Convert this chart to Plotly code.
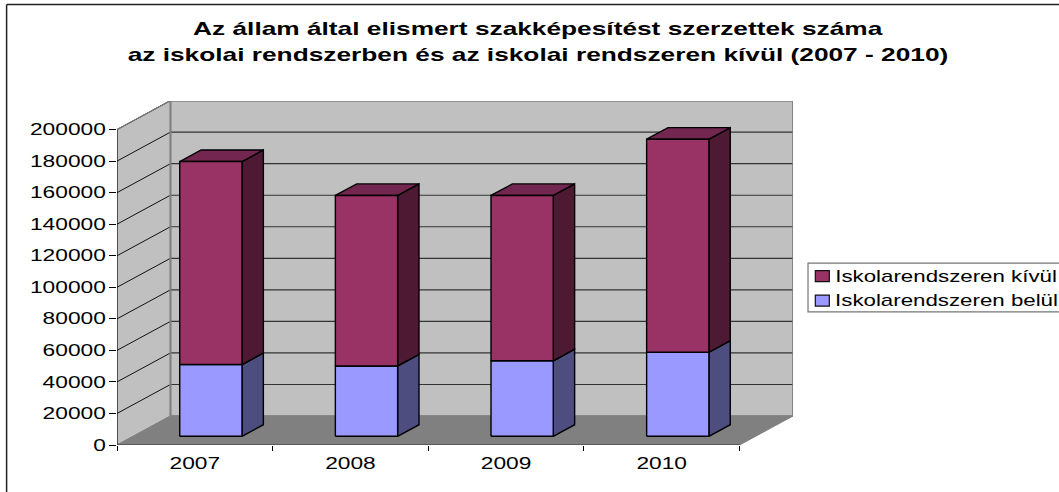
import plotly.graph_objects as go

years = ["2007", "2008", "2009", "2010"]
belul = [45500, 44600, 47900, 53300]
kivul = [128700, 108100, 104800, 135100]
tick_values = [0, 20000, 40000, 60000, 80000, 100000, 120000, 140000, 160000, 180000, 200000]
title_lines = ["Az állam által elismert szakképesítést szerzettek száma",
               "az iskolai rendszerben és az iskolai rendszeren kívül (2007 - 2010)"]
legend_names = ["Iskolarendszeren kívül", "Iskolarendszeren belül"]

W, H = 1059, 492
L, R, T, B = 117.3, 792.7, 100.7, 445.0
FRONT_R = 739.3
N = len(years)
band_px = (FRONT_R - L) / N
DEPTH_X = (R - FRONT_R) / band_px
Y_TOP_PX = 129.3
px_per_unit = (B - Y_TOP_PX) / 200000
DEPTH_Y = (B - 416.0) / px_per_unit
ymax = (B - T) / px_per_unit
xmax = N + DEPTH_X

WALL, FLOOR, EDGE = "#C0C0C0", "#808080", "#808080"
RED = ("#993366", "#732650", "#4D1933")
BLUE = ("#9999FF", "#7373BF", "#4D4D80")
FONT = "Liberation Sans"
STRETCH = 1.42

def px(x):
    return (x - L) / (R - L)

def py(y):
    return (B - y) / (B - T)

def proj(x, v, d):
    return x + d * DEPTH_X, v + d * DEPTH_Y

fig = go.Figure()

def poly(points, fill, line, width=1):
    xs, ys = zip(*[proj(*p) for p in points + points[:1]])
    fig.add_trace(go.Scatter(x=xs, y=ys, mode="lines", fill="toself", fillcolor=fill,
                             line=dict(color=line, width=width), hoverinfo="skip", showlegend=False))

def seg(a, b, color, width=1):
    xs, ys = zip(proj(*a), proj(*b))
    fig.add_trace(go.Scatter(x=xs, y=ys, mode="lines", line=dict(color=color, width=width),
                             hoverinfo="skip", showlegend=False))

# walls
poly([(0, 0, 1), (N, 0, 1), (N, 200000, 1), (0, 200000, 1)], WALL, EDGE, 1.5)
poly([(0, 0, 0), (0, 0, 1), (0, 200000, 1), (0, 200000, 0)], WALL, EDGE, 1)
poly([(0, 0, 0), (N, 0, 0), (N, 0, 1), (0, 0, 1)], FLOOR, EDGE, 1)
for v in tick_values[1:]:
    seg((0, v, 1), (N, v, 1), "#333333", 1.2)
    seg((0, v, 0), (0, v, 1), "#111111", 1)
seg((0, 0, 0), (0, 200000, 0), "#000000", 1)
seg((0, 0, 0), (N, 0, 0), "#333333", 1.2)
seg((0, 200000, 0), (0, 200000, 1), EDGE, 1.2)
seg((0, 0, 1), (0, 200000, 1), EDGE, 2)
seg((N, 0, 1), (N, 200000, 1), EDGE, 1.5)

# bars
def box(i, v0, v1, colors):
    x0, x1 = i + 0.3, i + 0.7
    d0, d1 = 0.3, 0.7
    poly([(x1, v0, d0), (x1, v0, d1), (x1, v1, d1), (x1, v1, d0)], colors[2], "#000000", 1.4)
    poly([(x0, v1, d0), (x1, v1, d0), (x1, v1, d1), (x0, v1, d1)], colors[1], "#000000", 1.4)
    poly([(x0, v0, d0), (x1, v0, d0), (x1, v1, d0), (x0, v1, d0)], colors[0], "#000000", 1.4)

for i in range(N):
    box(i, 0, belul[i], BLUE)
    box(i, belul[i], belul[i] + kivul[i], RED)

ann = [dict(text=t, x=px(538), xref="paper", yref="paper", y=py(yy), xanchor="center", yanchor="middle",
            showarrow=False, font=dict(family=FONT, size=18.5, color="#000000", weight="bold"))
       for t, yy in zip(title_lines, [28, 54])]
shapes = [
    dict(type="line", xref="paper", yref="paper", x0=px(7), x1=px(W), y0=py(4), y1=py(4), line=dict(color="#222222", width=1.5)),
    dict(type="line", xref="paper", yref="paper", x0=px(7), x1=px(7), y0=py(4), y1=py(H), line=dict(color="#222222", width=1.5)),
    dict(type="rect", xref="paper", yref="paper", x0=px(807.7), x1=px(1070), y0=py(263), y1=py(311.7), line=dict(color="#777777", width=1.2), fillcolor="#FFFFFF"),
]
for name, color, yy in zip(legend_names, [RED[0], BLUE[0]], [276, 300.5]):
    shapes.append(dict(type="rect", xref="paper", yref="paper", x0=px(815), x1=px(829), y0=py(yy - 5.5), y1=py(yy + 5.5),
                       line=dict(color="#111111", width=1.2), fillcolor=color))
    ann.append(dict(text=name, x=px(946), xref="paper", yref="paper", y=py(yy), xanchor="center", yanchor="middle",
                    showarrow=False, font=dict(family=FONT, size=15.7, color="#000000")))

fig.update_layout(
    width=W, height=H, autosize=False, showlegend=False,
    margin=dict(l=L, r=W - R, t=T, b=H - B, pad=0),
    paper_bgcolor="#FFFFFF", plot_bgcolor="#FFFFFF",
    annotations=ann, shapes=shapes,
    font=dict(family=FONT, size=16, color="#000000"),
    xaxis=dict(range=[0, xmax], tickmode="array", tickvals=[i + 0.5 for i in range(N)], ticktext=years,
               ticks="outside", ticklen=4, tickcolor="rgba(0,0,0,0)", showgrid=False, zeroline=False, showline=False,
               minor=dict(ticks="outside", tickmode="array", tickvals=list(range(N + 1)), ticklen=5, tickcolor="#000000", tickwidth=1, showgrid=False)),
    yaxis=dict(range=[0, ymax], tickmode="array", tickvals=tick_values, ticktext=[str(v) for v in tick_values],
               ticks="outside", ticklen=7, tickcolor="#000000", showgrid=False, zeroline=False, showline=False),
)
# The reference's lettering is stretched horizontally; widen each real text element to match.
stretch_js = """
document.body.style.margin='0';
document.querySelectorAll('svg text').forEach(function(t){
  var n=t.getComputedTextLength();
  if(n>0){t.setAttribute('textLength',n*%s);t.setAttribute('lengthAdjust','spacingAndGlyphs');}
});
""" % STRETCH
fig.write_html("out.html", post_script=stretch_js, config=dict(displayModeBar=False))
